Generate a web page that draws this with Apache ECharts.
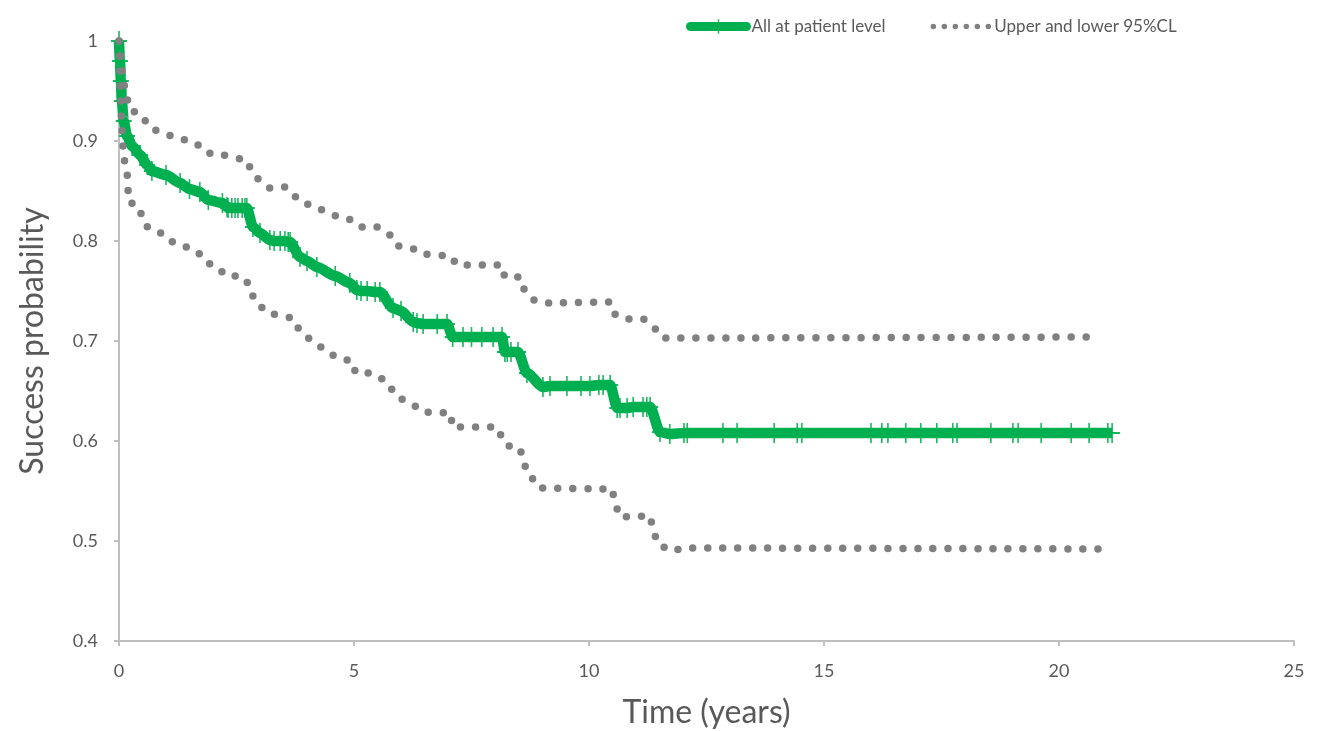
<!DOCTYPE html>
<html>
<head>
<meta charset="utf-8">
<script src="https://cdn.jsdelivr.net/npm/echarts@6/dist/echarts.min.js"></script>
<style>
  html, body { margin: 0; padding: 0; background: #fff; }
  #main { width: 1319px; height: 731px; }
</style>
</head>
<body>
<div id="main"></div>
<script>
// 生存曲线数据
const xTicks = [0, 5, 10, 15, 20, 25];
const yTicks = [0.4, 0.5, 0.6, 0.7, 0.8, 0.9, 1];

// 主曲线：时间（年）
const kmTime = [
  0, 0.02, 0.04, 0.06, 0.1, 0.17, 0.28, 0.45, 0.6, 0.7, 1.0, 1.3, 1.5, 1.72, 1.9, 2.2,
  2.3, 2.32, 2.4, 2.47, 2.53, 2.62, 2.68, 2.72, 2.85, 3.0, 3.21, 3.3, 3.43, 3.53, 3.6, 3.64,
  3.85, 4.0, 4.21, 4.6, 4.91, 5.06, 5.15, 5.28, 5.45, 5.55, 5.83, 6.0, 6.26, 6.34, 6.47,
  6.77, 6.98, 7.1, 7.32, 7.5, 7.72, 7.96, 8.15, 8.21, 8.26, 8.34, 8.49, 8.68, 9.02, 9.17,
  9.53, 9.83, 10.02, 10.21, 10.3, 10.45, 10.6, 10.66, 10.81, 10.94, 11.15, 11.23, 11.3,
  11.51, 11.72, 12.02, 12.09, 12.85, 13.15, 13.94, 14.43, 14.53, 16.0, 16.23, 16.36, 16.74,
  17.06, 17.4, 17.74, 17.83, 18.55, 19.02, 19.13, 19.62, 20.26, 20.64, 21.04, 21.13
];
// 主曲线：成功概率
const kmProb = [
  1.0, 0.98, 0.96, 0.94, 0.92, 0.905, 0.895, 0.886, 0.876, 0.87, 0.866, 0.858, 0.852, 0.849, 0.841, 0.838,
  0.834, 0.833, 0.833, 0.833, 0.833, 0.833, 0.833, 0.833, 0.814, 0.808, 0.801, 0.8, 0.8, 0.8, 0.799, 0.799,
  0.784, 0.78, 0.774, 0.765, 0.758, 0.751, 0.75, 0.75, 0.749, 0.749, 0.733, 0.73, 0.719, 0.718, 0.717,
  0.717, 0.717, 0.704, 0.704, 0.704, 0.704, 0.704, 0.704, 0.689, 0.689, 0.689, 0.689, 0.668, 0.654, 0.655,
  0.655, 0.655, 0.655, 0.656, 0.656, 0.656, 0.633, 0.633, 0.633, 0.634, 0.634, 0.634, 0.634,
  0.609, 0.607, 0.608, 0.608, 0.608, 0.608, 0.608, 0.608, 0.608, 0.608, 0.608, 0.608, 0.608,
  0.608, 0.608, 0.608, 0.608, 0.608, 0.608, 0.608, 0.608, 0.608, 0.608, 0.608, 0.608
];

// 95%置信区间上限
const upperTime = [
  0, 0.04, 0.09, 0.15, 0.23, 0.49, 0.62, 0.83, 1.13, 1.43, 1.68, 1.87, 2.17, 2.72, 2.83, 3.0,
  3.21, 3.53, 3.7, 3.89, 4.17, 4.4, 4.7, 4.98, 5.17, 5.49, 5.77, 5.94, 6.21, 6.45, 7.06, 7.19,
  8.15, 8.21, 8.53, 8.64, 8.87, 9.17, 10.45, 10.57, 10.83, 11.15, 11.36, 11.57, 20.81
];
const upperProb = [
  1.0, 0.981, 0.961, 0.946, 0.931, 0.926, 0.915, 0.91, 0.905, 0.901, 0.896, 0.888, 0.886, 0.881, 0.868, 0.861,
  0.853, 0.854, 0.846, 0.838, 0.835, 0.829, 0.824, 0.821, 0.814, 0.814, 0.806, 0.795, 0.793, 0.787, 0.785, 0.776,
  0.776, 0.764, 0.764, 0.75, 0.74, 0.738, 0.739, 0.726, 0.722, 0.722, 0.714, 0.703, 0.704
];

// 95%置信区间下限
const lowerTime = [
  0, 0.02, 0.04, 0.06, 0.11, 0.17, 0.21, 0.43, 0.51, 0.66, 0.91, 1.15, 1.45, 1.68, 1.87, 2.09,
  2.28, 2.6, 2.77, 2.85, 2.98, 3.15, 3.43, 3.68, 3.81, 3.98, 4.19, 4.38, 4.66, 4.96, 5.04, 5.36,
  5.62, 5.83, 6.0, 6.23, 6.45, 7.06, 7.09, 8.04, 8.15, 8.28, 8.53, 8.6, 8.74, 8.94, 10.49, 10.55,
  10.66, 11.3, 11.36, 11.47, 11.74, 12.04, 20.94
];
const lowerProb = [
  1.0, 0.97, 0.94, 0.911, 0.881, 0.868, 0.839, 0.834, 0.82, 0.811, 0.808, 0.799, 0.794, 0.788, 0.778, 0.774,
  0.765, 0.765, 0.757, 0.745, 0.736, 0.728, 0.726, 0.723, 0.713, 0.704, 0.698, 0.691, 0.683, 0.68, 0.668, 0.668,
  0.662, 0.651, 0.642, 0.637, 0.629, 0.628, 0.614, 0.614, 0.604, 0.595, 0.593, 0.578, 0.565, 0.553, 0.552, 0.538,
  0.524, 0.525, 0.511, 0.497, 0.49, 0.493, 0.492
];

const zip = (xs, ys) => xs.map((x, i) => [x, ys[i]]);

const GREEN = '#00B050';
const GREY = '#808080';
const TEXT = '#595959';
const FONT = 'Lato';
// “+” 形删失标记
const PLUS = 'path://M9,0h2v20h-2z M0,9h20v2h-20z';

const chart = echarts.init(document.getElementById('main'), null, { renderer: 'canvas' });

const dotLine = {
  color: GREY,
  width: 7.5,
  type: [0, 15],
  cap: 'round'
};

const option = {
  backgroundColor: '#fff',
  animation: false,
  textStyle: { fontFamily: FONT },
  grid: { left: 119, right: 25, top: 41, bottom: 90, outerBoundsMode: 'none', containLabel: false },
  legend: {
    left: 681,
    top: 13,
    itemWidth: 56,
    itemHeight: 18,
    itemGap: 45,
    textStyle: { color: TEXT, fontSize: 17, fontFamily: FONT },
    data: [
      {
        name: 'All at patient level',
        lineStyle: { color: GREEN, width: 9, cap: 'round' }
      },
      {
        name: 'Upper and lower 95%CL',
        itemStyle: { opacity: 0 },
        lineStyle: { color: GREY, width: 5.5, type: [0, 11], cap: 'round' }
      }
    ]
  },
  xAxis: {
    type: 'value',
    min: 0,
    max: 25,
    interval: 5,
    name: 'Time (years)',
    nameLocation: 'middle',
    nameGap: 56,
    nameTextStyle: { color: TEXT, fontSize: 32, fontFamily: FONT },
    axisLine: { lineStyle: { color: '#bfbfbf', width: 2 } },
    axisTick: { show: true, length: 5, lineStyle: { color: '#bfbfbf', width: 2 } },
    axisLabel: { color: TEXT, fontSize: 18, margin: 21 },
    splitLine: { show: false }
  },
  yAxis: {
    type: 'value',
    min: 0.4,
    max: 1,
    interval: 0.1,
    name: 'Success probability',
    nameLocation: 'middle',
    nameGap: 70,
    nameTextStyle: { color: TEXT, fontSize: 32, fontFamily: FONT },
    axisLine: { show: true, lineStyle: { color: '#bfbfbf', width: 2 } },
    axisTick: { show: true, length: 5, lineStyle: { color: '#bfbfbf', width: 2 } },
    axisLabel: {
      color: TEXT, fontSize: 18, margin: 21,
      formatter: v => String(Math.round(v * 10) / 10)
    },
    splitLine: { show: false }
  },
  series: [
    {
      name: 'All at patient level',
      type: 'line',
      z: 2,
      data: zip(kmTime, kmProb),
      smooth: 0.25,
      smoothMonotone: 'x',
      symbol: PLUS,
      symbolSize: [16, 20],
      showSymbol: true,
      itemStyle: { color: GREEN, opacity: 0.9 },
      lineStyle: { color: GREEN, width: 10.5 }
    },
    {
      name: 'Upper and lower 95%CL',
      type: 'line',
      z: 3,
      data: zip(upperTime, upperProb),
      smooth: 0.25,
      smoothMonotone: 'x',
      showSymbol: false,
      symbol: 'none',
      itemStyle: { color: GREY },
      lineStyle: dotLine
    },
    {
      name: 'Upper and lower 95%CL',
      type: 'line',
      z: 3,
      data: zip(lowerTime, lowerProb),
      smooth: 0.25,
      smoothMonotone: 'x',
      showSymbol: false,
      symbol: 'none',
      itemStyle: { color: GREY },
      lineStyle: dotLine
    }
  ]
};

chart.setOption(option);
</script>
</body>
</html>
